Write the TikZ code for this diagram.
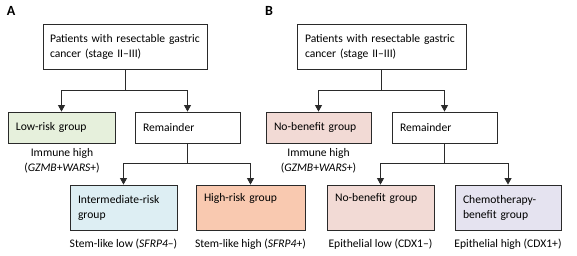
\documentclass[tikz,border=0pt]{standalone}
\usepackage{fontspec}
\setmainfont{Carlito}
\usetikzlibrary{arrows.meta}
\definecolor{lowgreen}{HTML}{E6F0DC}
\definecolor{midblue}{HTML}{DDEEF3}
\definecolor{highsalmon}{HTML}{F9C9B0}
\definecolor{nobpink}{HTML}{F2DAD5}
\definecolor{chemolav}{HTML}{E5E3F0}
\definecolor{edge}{HTML}{2A2A2A}
\begin{document}
\begin{tikzpicture}[x=1pt,y=-1pt,
  font=\fontsize{11.6}{15}\selectfont,
  box/.style={draw=edge, line width=0.85pt, align=left, inner xsep=8pt, inner ysep=0pt,
    minimum height=#1, anchor=center},
  box/.default=31pt,
  conn/.style={draw=edge, line width=0.85pt},
  arr/.style={conn, -{Triangle[width=7pt,length=6.5pt]}},
  note/.style={inner sep=0pt, align=center},
  panel/.style={font=\fontsize{14}{16}\selectfont\bfseries, inner sep=0pt}]
\useasboundingbox (0,0) rectangle (577,255);
% ---------- Panel A ----------
\node[panel] (labA) at (11,11) {A};
\node[box=45pt, text width=150pt, inner xsep=7pt] (topA) at (125,46.5) {Patients with resectable gastric\\cancer (stage II--III)};
\node[box, text width=91pt, fill=lowgreen] (lowA) at (61.5,127.5) {Low-risk group};
\node[box, text width=89pt] (remA) at (187.5,127.5) {Remainder};
\node[box=45pt, text width=91pt, fill=midblue] (intA) at (123.5,207.5) {Intermediate-risk\\group};
\node[box=45pt, text width=93pt, fill=highsalmon] (highA) at (250.5,207.5) {High-risk group\\\strut};
\node[note] (immA) at (62,160.5) {Immune high\\(\textit{GZMB}+\textit{WARS}+)};
\node[note] (stemlow) at (123.5,244) {Stem-like low (\textit{SFRP4}--)};
\node[note] (stemhigh) at (250.5,244) {Stem-like high (\textit{SFRP4}+)};
\coordinate (jA) at (topA.south |- 0,90);
\coordinate (kA) at (remA.south |- 0,163);
\draw[conn] (topA.south) -- (jA);
\draw[arr] (jA) -| (lowA.north);
\draw[arr] (jA) -| (remA.north);
\draw[conn] (remA.south) -- (kA);
\draw[arr] (kA) -| (intA.north);
\draw[arr] (kA) -| (highA.north);
% ---------- Panel B ----------
\node[panel] (labB) at (269,11) {B};
\node[box=45pt, text width=153pt] (topB) at (381.5,46.5) {Patients with resectable gastric\\cancer (stage II--III)};
\node[box, text width=89pt, fill=nobpink] (nobB) at (318.5,127.5) {No-benefit group};
\node[box, text width=89pt] (remB) at (444.5,127.5) {Remainder};
\node[box=45pt, text width=91pt, fill=nobpink] (nob2B) at (380.5,207.5) {No-benefit group\\\strut};
\node[box=45pt, text width=90pt, fill=chemolav] (chemoB) at (508,207.5) {Chemotherapy-\\benefit group};
\node[note] (immB) at (318.5,160.5) {Immune high\\(\textit{GZMB}+\textit{WARS}+)};
\node[note] (epilow) at (380.5,244) {Epithelial low (CDX1--)};
\node[note] (epihigh) at (508,244) {Epithelial high (CDX1+)};
\coordinate (jB) at (topB.south |- 0,90);
\coordinate (kB) at (remB.south |- 0,163);
\draw[conn] (topB.south) -- (jB);
\draw[arr] (jB) -| (nobB.north);
\draw[arr] (jB) -| (remB.north);
\draw[conn] (remB.south) -- (kB);
\draw[arr] (kB) -| (nob2B.north);
\draw[arr] (kB) -| (chemoB.north);
\end{tikzpicture}
\end{document}
